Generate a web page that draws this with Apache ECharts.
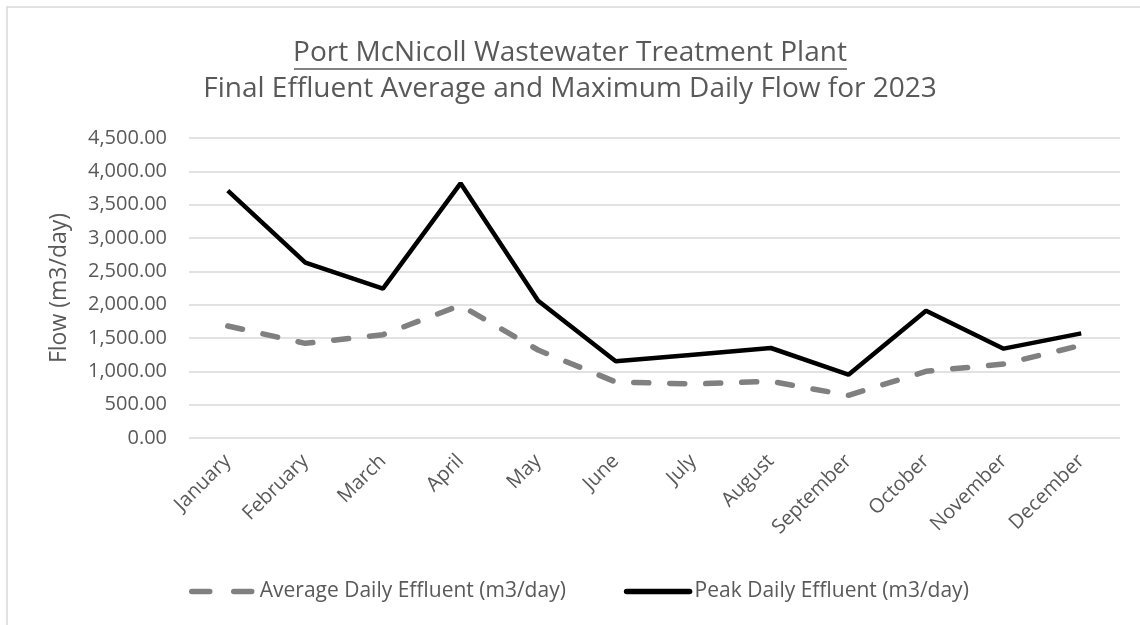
<!DOCTYPE html>
<html>
<head>
<meta charset="utf-8">
<script src="https://cdn.jsdelivr.net/npm/echarts@6/dist/echarts.min.js"></script>
<style>
  html, body { margin: 0; padding: 0; background: #fff; }
  #chart { width: 1140px; height: 625px; }
</style>
</head>
<body>
<div id="chart"></div>
<script>
  // 月份
  const months = ["January", "February", "March", "April", "May", "June",
    "July", "August", "September", "October", "November", "December"];
  // 平均日流量 (m3/day)
  const averageDaily = [1680, 1420, 1550, 1990, 1320, 840, 810, 850, 640, 1000, 1110, 1390];
  // 峰值日流量 (m3/day)
  const peakDaily = [3710, 2630, 2240, 3820, 2060, 1150, 1250, 1350, 950, 1910, 1340, 1570];

  const textColor = "#595959";
  const font = "'Open Sans', sans-serif";

  const chart = echarts.init(document.getElementById("chart"));
  chart.setOption({
    animation: false,
    title: [
      {
        text: "Port McNicoll Wastewater Treatment Plant",
        left: "center",
        top: 34,
        textStyle: { fontFamily: font, fontSize: 28, fontWeight: "normal", color: textColor },
      },
      {
        text: "Final Effluent Average and Maximum Daily Flow for 2023",
        left: "center",
        top: 70,
        textStyle: { fontFamily: font, fontSize: 28, fontWeight: "normal", color: textColor },
      },
    ],
    graphic: [
      // 图表边框（上、左）
      {
        type: "polyline",
        shape: { points: [[7, 625], [7, 7], [1140, 7]] },
        style: { fill: "none", stroke: "#d9d9d9", lineWidth: 1.5 },
        silent: true,
      },
      // 标题下划线
      {
        type: "line",
        shape: { x1: 294, y1: 69, x2: 847, y2: 69 },
        style: { stroke: textColor, lineWidth: 1.5 },
        silent: true,
      },
    ],
    legend: {
      top: 576,
      left: 184,
      itemGap: 58,
      itemWidth: 63,
      itemHeight: 14,
      itemStyle: { opacity: 0 },
      lineStyle: { width: 5.5, cap: "round" },
      textStyle: { fontFamily: font, fontSize: 21, color: textColor },
      data: [
        { name: "Average Daily Effluent (m3/day)", lineStyle: { type: [18, 24] } },
        { name: "Peak Daily Effluent (m3/day)" },
      ],
    },
    grid: { left: 189, right: 20, top: 138, bottom: 187 },
    xAxis: {
      type: "category",
      data: months,
      axisLine: { show: false },
      axisTick: { show: false },
      axisLabel: {
        rotate: 45,
        margin: 20,
        fontFamily: font,
        fontSize: 20,
        color: textColor,
      },
    },
    yAxis: {
      type: "value",
      min: 0,
      max: 4500,
      interval: 500,
      name: "Flow (m3/day)",
      nameLocation: "middle",
      nameGap: 118,
      nameRotate: 90,
      nameTextStyle: { fontFamily: font, fontSize: 23, color: textColor },
      axisLabel: {
        margin: 22,
        fontFamily: font,
        fontSize: 20,
        color: textColor,
        formatter: (v) => v.toLocaleString("en-US", { minimumFractionDigits: 2, maximumFractionDigits: 2 }),
      },
      splitLine: { lineStyle: { color: "#d9d9d9", width: 1.5 } },
    },
    series: [
      {
        name: "Average Daily Effluent (m3/day)",
        type: "line",
        data: averageDaily,
        symbol: "none",
        lineStyle: { color: "#808080", width: 5.5, type: [15, 21], cap: "round" },
        itemStyle: { color: "#808080" },
      },
      {
        name: "Peak Daily Effluent (m3/day)",
        type: "line",
        data: peakDaily,
        symbol: "none",
        lineStyle: { color: "#000000", width: 4.5 },
        itemStyle: { color: "#000000" },
      },
    ],
  });
</script>
</body>
</html>
